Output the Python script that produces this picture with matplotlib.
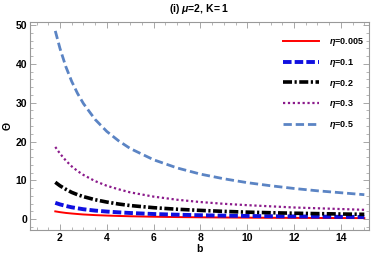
import numpy as np
import matplotlib.pyplot as plt
from matplotlib.ticker import MultipleLocator

plt.rcParams['font.family'] = ['Liberation Sans', 'DejaVu Sans']
plt.rcParams['mathtext.fontset'] = 'custom'
plt.rcParams['mathtext.it'] = 'Liberation Sans:italic:bold'
plt.rcParams['mathtext.rm'] = 'Liberation Sans:bold'

b = [1.8, 2, 2.25, 2.5, 2.75, 3, 3.5, 4, 4.5, 5, 6, 7, 8, 9, 10, 11, 12, 13, 14, 15]
eta005 = [2.0, 1.8, 1.6, 1.45, 1.32, 1.2, 1.04, 0.92, 0.82, 0.74, 0.62, 0.53, 0.47, 0.42, 0.38, 0.35, 0.32, 0.3, 0.28, 0.26]
eta01 = [4.2, 3.8, 3.4, 3.05, 2.8, 2.55, 2.2, 1.95, 1.75, 1.58, 1.32, 1.14, 1.0, 0.9, 0.82, 0.75, 0.7, 0.65, 0.6, 0.56]
eta02 = [9.5, 8.6, 7.7, 6.9, 6.3, 5.8, 5.0, 4.4, 3.9, 3.5, 2.95, 2.55, 2.25, 2.0, 1.8, 1.65, 1.52, 1.42, 1.32, 1.24]
eta03 = [18.6, 16.9, 15.1, 13.6, 12.4, 11.4, 9.8, 8.6, 7.7, 6.9, 5.8, 5.0, 4.4, 3.95, 3.6, 3.3, 3.0, 2.8, 2.6, 2.4]
eta05 = [48.5, 44.0, 39.3, 35.5, 32.4, 29.8, 25.7, 22.6, 20.2, 18.2, 15.3, 13.2, 11.6, 10.4, 9.4, 8.6, 7.9, 7.3, 6.8, 6.3]

fig = plt.figure(figsize=(3.74, 2.59), dpi=100)
ax = fig.add_axes([30/374, 29/259, 339/374, 208/259])

ax.plot(b, eta005, color='red', lw=1.4, label=r'$\eta$=0.005')
ax.plot(b, eta01, color='#1010e0', lw=2.8, ls=(0, (2.2, 0.8)), label=r'$\eta$=0.1')
ax.plot(b, eta02, color='black', lw=2.6, ls=(0, (2.5, 0.7, 0.6, 0.7)), label=r'$\eta$=0.2')
ax.plot(b, eta03, color='#8b1a8b', lw=1.6, ls=(0, (1, 1.2)), label=r'$\eta$=0.3')
ax.plot(b, eta05, color='#5b84c4', lw=2.0, ls=(0, (3, 1.4)), label=r'$\eta$=0.5')

ax.set_xlim(0.72, 15.2)
ax.set_ylim(-2.8, 50.8)
ax.xaxis.set_major_locator(MultipleLocator(2))
ax.xaxis.set_minor_locator(MultipleLocator(0.5))
ax.yaxis.set_major_locator(MultipleLocator(10))
ax.yaxis.set_minor_locator(MultipleLocator(2))
ax.tick_params(which='both', direction='in', top=True, right=True, labelsize=7.5, pad=2, color='#999999')
ax.tick_params(which='major', length=4, width=0.6)
ax.tick_params(which='minor', length=2, width=0.5)
for lab in ax.get_xticklabels() + ax.get_yticklabels():
    lab.set_fontweight('bold')
for s in ax.spines.values():
    s.set_color('#999999')
    s.set_linewidth(0.8)

ax.set_xlabel('b', fontsize=7.5, fontweight='bold', labelpad=1)
ax.set_ylabel('Θ', fontsize=7.5, fontweight='bold', labelpad=2)
ax.set_title(r'(i) $\mu$=2, K= 1', fontsize=7.5, fontweight='bold', pad=7)

ax.legend(loc='upper right', bbox_to_anchor=(1.01, 0.97), frameon=False,
          handlelength=4.0, labelspacing=0.95, handletextpad=1.1, prop={'weight': 'bold', 'size': 6.5})

plt.savefig('out.png', dpi=100)
